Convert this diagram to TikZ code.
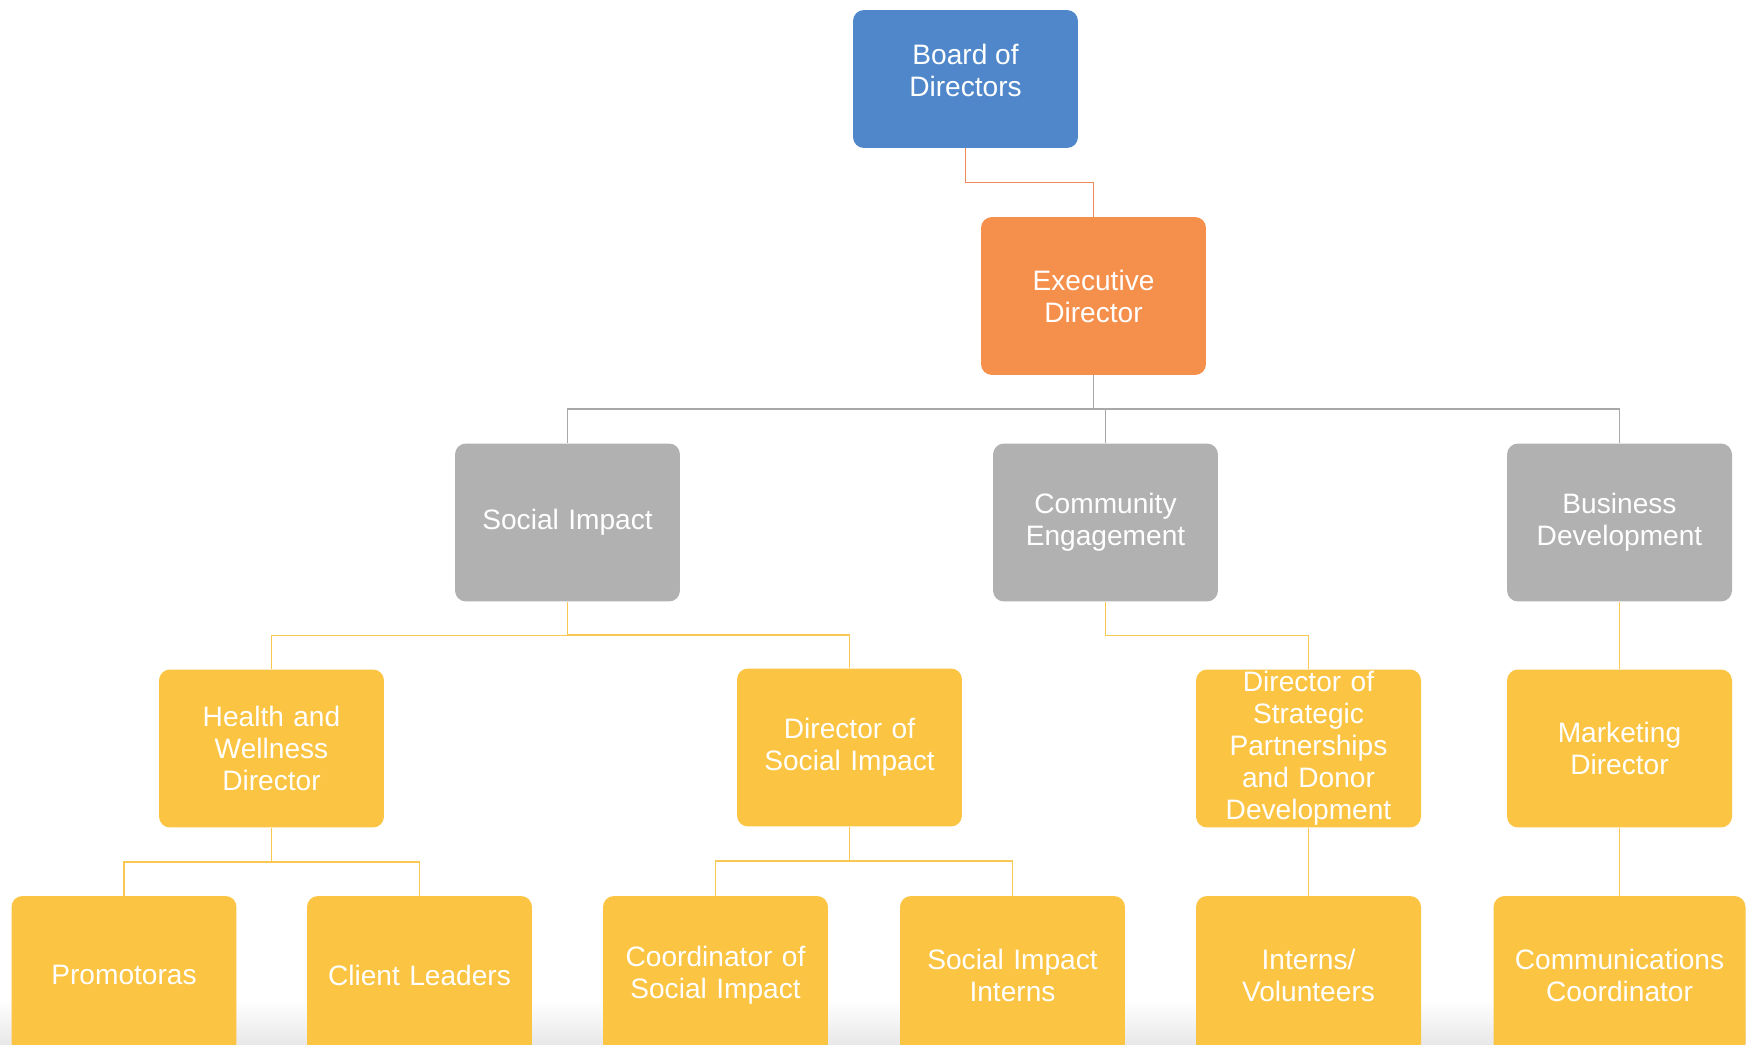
\documentclass[tikz,border=0pt]{standalone}
\usepackage{fontspec}
\setmainfont{Liberation Sans}
\usetikzlibrary{calc}

\definecolor{boardblue}{RGB}{79,135,202}
\definecolor{execorange}{RGB}{245,143,76}
\definecolor{deptgrey}{RGB}{177,177,177}
\definecolor{staffyellow}{RGB}{251,196,66}
\definecolor{linkorange}{RGB}{238,140,88}
\definecolor{linkgrey}{RGB}{168,168,168}
\definecolor{linkyellow}{RGB}{248,200,82}

\tikzset{
  box/.style={rectangle, rounded corners=0.22cm, draw=none, text=white,
    minimum width=4.5cm, minimum height=3.16cm, inner sep=0pt,
    align=center, text width=4.3cm,
    font=\fontsize{16}{18.2}\selectfont},
  boardbox/.style={box, fill=boardblue, minimum height=2.76cm},
  execbox/.style={box, fill=execorange},
  deptbox/.style={box, fill=deptgrey},
  staffbox/.style={box, fill=staffyellow},
  link/.style={line width=1.1pt},
  linkO/.style={link, draw=linkorange},
  linkG/.style={link, draw=linkgrey},
  linkY/.style={link, draw=linkyellow},
}

% elbow connector: down, across, down
\newcommand{\orgedge}[3]{%
  \draw[#1] (#2.south) |- ($(#2.south)!0.5!(#3.north)$) -| (#3.north);}

\begin{document}
\begin{tikzpicture}[x=0.02cm, y=-0.02cm]
  \useasboundingbox (0,0) rectangle (1746,1044);
  \clip (0,0) rectangle (1746,1044);
  \fill[white] (0,0) rectangle (1746,1044);
  \shade[top color=white, bottom color=black!9] (0,1000) rectangle (1746,1044);

  % top of the organisation
  \node[boardbox] (board) at (965.5,79) {};
  \node[text=white, align=center, font=\fontsize{16}{18.2}\selectfont]
    (boardtext) at ($(board.center)+(0,-9)$) {Board of\\Directors};
  \node[execbox] (exec) at (1093.5,296) {Executive\\Director};

  % departments
  \node[deptbox] (social) at (567.5,522.5) {Social Impact};
  \node[deptbox] (community) at (1105.5,522.5) {Community\\Engagement};
  \node[deptbox] (business) at (1619.5,522.5) {Business\\Development};

  % directors
  \node[staffbox] (health) at (271.5,748.5) {Health and\\Wellness\\Director};
  \node[staffbox] (dirsocial) at (849.5,747.5) {Director of\\Social Impact};
  \node[staffbox] (strategic) at (1308.5,748.5)
    {Director of\\Strategic\\Partnerships\\and Donor\\Development};
  \node[staffbox] (marketing) at (1619.5,748.5) {Marketing\\Director};

  % staff
  \node[staffbox] (promotoras) at (124,975) {Promotoras};
  \node[staffbox] (clients) at (419.5,975) {Client Leaders};
  \node[staffbox] (coordinator) at (715.5,975) {Coordinator of\\Social Impact};
  \node[staffbox] (siinterns) at (1012.5,975) {Social Impact\\Interns};
  \node[staffbox] (volunteers) at (1308.5,975) {Interns/\\Volunteers};
  \node[staffbox, minimum width=5.04cm, text width=4.9cm] (comms) at (1619.5,975)
    {Communications\\Coordinator};

  % connectors
  \orgedge{linkO}{board}{exec}
  \orgedge{linkG}{exec}{social}
  \orgedge{linkG}{exec}{community}
  \orgedge{linkG}{exec}{business}
  \orgedge{linkY}{social}{health}
  \orgedge{linkY}{social}{dirsocial}
  \orgedge{linkY}{community}{strategic}
  \orgedge{linkY}{business}{marketing}
  \orgedge{linkY}{health}{promotoras}
  \orgedge{linkY}{health}{clients}
  \orgedge{linkY}{dirsocial}{coordinator}
  \orgedge{linkY}{dirsocial}{siinterns}
  \orgedge{linkY}{strategic}{volunteers}
  \orgedge{linkY}{marketing}{comms}
\end{tikzpicture}
\end{document}
